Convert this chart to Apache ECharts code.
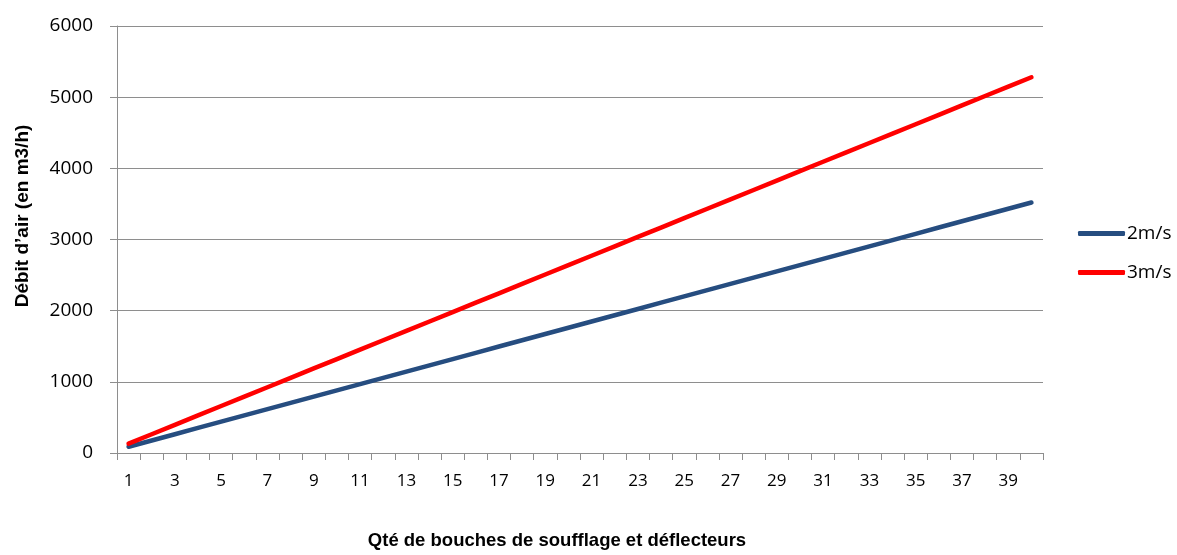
<!DOCTYPE html>
<html>
<head>
<meta charset="utf-8">
<script src="https://cdn.jsdelivr.net/npm/echarts@6/dist/echarts.min.js"></script>
<style>
  html, body { margin: 0; padding: 0; background: #fff; }
  #chart { width: 1177px; height: 555px; }
</style>
</head>
<body>
<div id="chart"></div>
<script>
const quantities = ['1','2','3','4','5','6','7','8','9','10','11','12','13','14','15','16','17','18','19','20',
  '21','22','23','24','25','26','27','28','29','30','31','32','33','34','35','36','37','38','39','40']

const debit2ms = [88, 176, 264, 352, 440, 528, 616, 704, 792, 880, 968, 1056, 1144, 1232, 1320, 1408, 1496, 1584, 1672, 1760,
  1848, 1936, 2024, 2112, 2200, 2288, 2376, 2464, 2552, 2640, 2728, 2816, 2904, 2992, 3080, 3168, 3256, 3344, 3432, 3520]

const debit3ms = [132, 264, 396, 528, 660, 792, 924, 1056, 1188, 1320, 1452, 1584, 1716, 1848, 1980, 2112, 2244, 2376, 2508, 2640,
  2772, 2904, 3036, 3168, 3300, 3432, 3564, 3696, 3828, 3960, 4092, 4224, 4356, 4488, 4620, 4752, 4884, 5016, 5148, 5280]

const axisFont = 'Open Sans'
const titleFont = 'Liberation Sans'
const gridGray = '#8e8e8e'

const chart = echarts.init(document.getElementById('chart'), null, { renderer: 'canvas' })

chart.setOption({
  backgroundColor: '#fff',
  animation: false,
  grid: {
    left: 117,
    right: 134,
    top: 26,
    bottom: 98,
    containLabel: false
  },
  legend: {
    orient: 'vertical',
    left: 1078,
    top: 224,
    padding: 0,
    icon: 'roundRect',
    itemWidth: 47,
    itemHeight: 5,
    itemGap: 20,
    textStyle: {
      fontFamily: axisFont,
      fontSize: 19,
      color: '#000',
      padding: [0, 0, 0, -3]
    },
    data: ['2m/s', '3m/s']
  },
  xAxis: {
    type: 'category',
    data: quantities,
    boundaryGap: true,
    name: 'Qté de bouches de soufflage et déflecteurs',
    nameLocation: 'middle',
    nameGap: 78,
    nameTextStyle: {
      fontFamily: titleFont,
      fontWeight: 'bold',
      fontSize: 18.5,
      color: '#000',
      padding: [0, 46, 0, 0]
    },
    axisLine: { lineStyle: { color: gridGray, width: 1 } },
    axisTick: { show: true, interval: 0, length: 7, lineStyle: { color: gridGray } },
    axisLabel: {
      interval: 1,
      margin: 20,
      fontFamily: axisFont,
      fontSize: 17,
      color: '#000'
    },
    splitLine: { show: false }
  },
  yAxis: {
    type: 'value',
    min: 0,
    max: 6000,
    interval: 1000,
    name: 'Débit d’air (en m3/h)',
    nameLocation: 'middle',
    nameRotate: 90,
    nameGap: 85,
    nameTextStyle: {
      fontFamily: titleFont,
      fontWeight: 'bold',
      fontSize: 19,
      color: '#000',
      padding: [0, 0, 0, 47]
    },
    axisLine: { show: true, lineStyle: { color: gridGray, width: 1 } },
    axisTick: { show: true, length: 7, lineStyle: { color: gridGray } },
    axisLabel: {
      margin: 24,
      fontFamily: axisFont,
      fontSize: 19,
      color: '#000',
      formatter: (value) => String(value)
    },
    splitLine: { show: true, lineStyle: { color: gridGray, width: 1 } }
  },
  series: [
    {
      name: '2m/s',
      type: 'line',
      data: debit2ms,
      showSymbol: false,
      symbol: 'none',
      itemStyle: { color: '#264d80' },
      lineStyle: { color: '#264d80', width: 4.5, cap: 'round' }
    },
    {
      name: '3m/s',
      type: 'line',
      data: debit3ms,
      showSymbol: false,
      symbol: 'none',
      itemStyle: { color: '#ff0000' },
      lineStyle: { color: '#ff0000', width: 4.5, cap: 'round' }
    }
  ]
})
</script>
</body>
</html>
